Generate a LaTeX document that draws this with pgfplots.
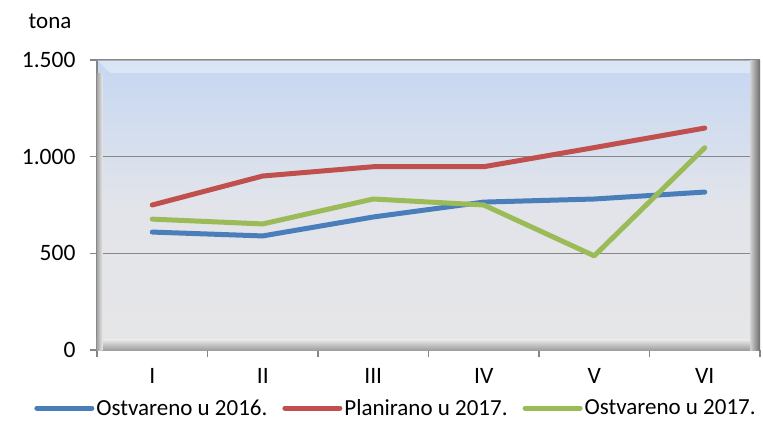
\documentclass[border=0pt]{standalone}
\usepackage{pgfplots}
\pgfplotsset{compat=1.18}
\usepackage{fontspec}
\setmainfont{Carlito}
\definecolor{cblue}{RGB}{74,126,187}
\definecolor{cred}{RGB}{192,80,77}
\definecolor{cgreen}{RGB}{155,187,89}
\definecolor{bgtop}{RGB}{197,215,242}
\definecolor{bgmid}{RGB}{226,228,234}
\definecolor{bgbot}{RGB}{230,230,230}
\definecolor{gridc}{RGB}{134,134,134}
\begin{document}
\begin{tikzpicture}
\useasboundingbox (-97pt,-71pt) rectangle (666pt,350pt);
\begin{axis}[
  at={(0,0)}, anchor=south west,
  scale only axis, width=663pt, height=290pt,
  xmin=-0.5, xmax=5.5, ymin=0, ymax=1500,
  axis lines*=left,
  axis line style={gridc, line width=1.5pt},
  xtick={0,...,5}, xticklabels={I,II,III,IV,V,VI},
  minor xtick={-0.5,0.5,...,5.5},
  ytick={0,500,1000,1500},
  ymajorgrids, major grid style={gridc, line width=1.5pt},
  tick align=outside,
  major tick length=7pt, minor tick length=7pt,
  major x tick style={draw=none},
  tick style={gridc, line width=1.2pt},
  minor tick style={gridc, line width=1.2pt},
  tick label style={font=\fontsize{23.5}{27}\selectfont},
  xticklabel style={yshift=-8pt},
  yticklabel style={xshift=-11pt, /pgf/number format/.cd, 1000 sep={.}, assume math mode=true},
  axis background/.style={top color=bgtop, bottom color=bgbot, middle color=bgmid},
  legend columns=3,
  legend style={at={(0.451,-0.2)}, anchor=center, draw=none, fill=none,
    font=\fontsize{23}{27}\selectfont, inner sep=0pt,
    /tikz/every even column/.append style={column sep=13pt}},
  legend cell align=left,
  legend image code/.code={\draw[line width=5pt, line cap=round] (0pt,0pt) -- (55pt,0pt);},
]
\fill[white, opacity=0.35] (rel axis cs:0,1) -- (rel axis cs:1,1) -- (rel axis cs:0.985,0.955) -- (rel axis cs:0.02,0.955) -- cycle;
\fill[left color=gray!35, right color=gray!85!black] (rel axis cs:0.985,0) rectangle (rel axis cs:1,1);
\fill[top color=bgbot, bottom color=gray!75] (rel axis cs:0,0) rectangle (rel axis cs:0.985,0.035);
\fill[left color=gray!70, right color=bgbot] (rel axis cs:0,0) rectangle (rel axis cs:0.008,0.955);
\addplot[cblue, line width=5pt, line cap=round, line join=round] coordinates {(0,610) (1,590) (2,688) (3,765) (4,781) (5,817)};
\addlegendentry{Ostvareno u 2016.}
\addplot[cred, line width=5pt, line cap=round, line join=round] coordinates {(0,750) (1,900) (2,948) (3,948) (4,1047) (5,1148)};
\addlegendentry{Planirano u 2017.}
\addplot[cgreen, line width=5pt, line cap=round, line join=round] coordinates {(0,677) (1,652) (2,781) (3,750) (4,487) (5,1046)};
\addlegendentry{Ostvareno u 2017.}
\end{axis}
\node[anchor=base, font=\fontsize{23}{27}\selectfont] at (-47pt,321pt) {tona};
\end{tikzpicture}
\end{document}
